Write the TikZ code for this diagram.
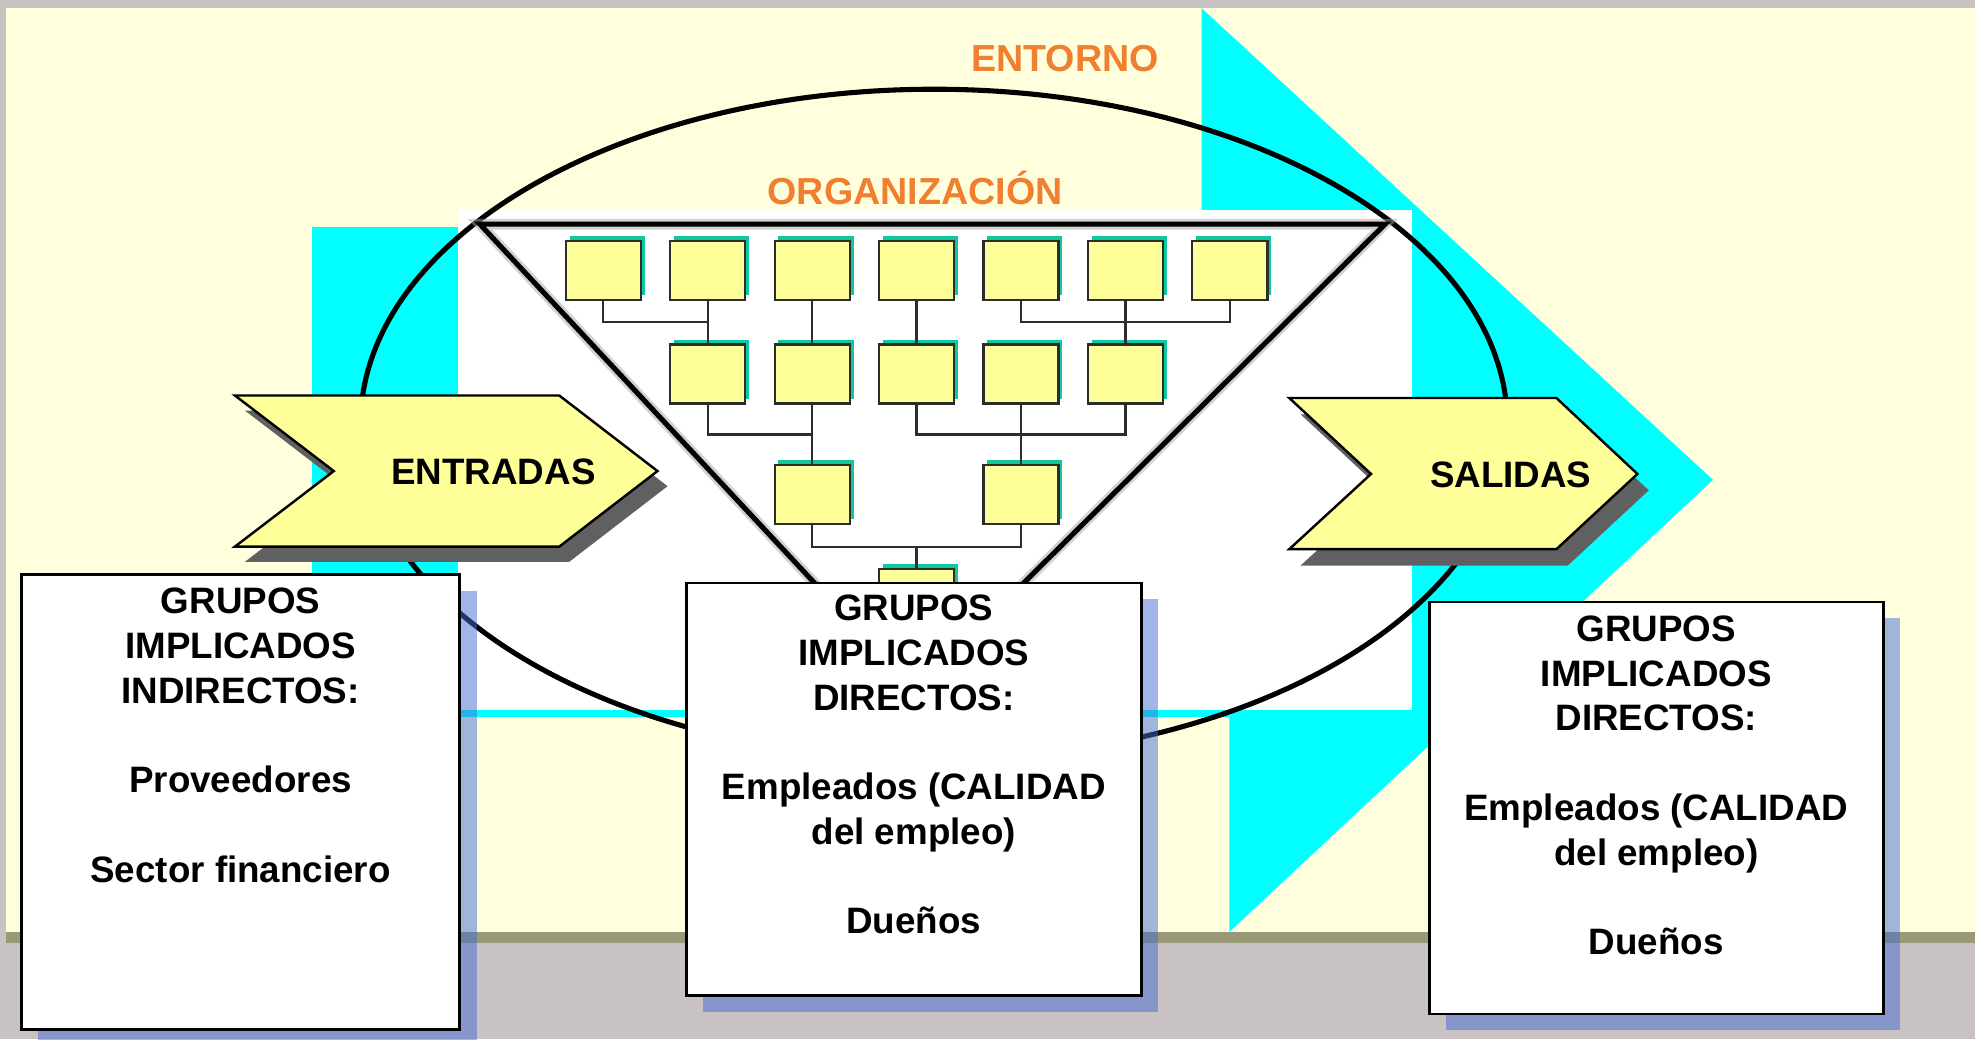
\documentclass[tikz,border=0pt]{standalone}
\usepackage{fontspec}
\setmainfont{Liberation Sans}
\usetikzlibrary{shadows}
\definecolor{bggray}{RGB}{201,194,194}
\definecolor{panel}{RGB}{255,255,221}
\definecolor{olive}{RGB}{153,153,120}
\definecolor{cyanc}{RGB}{0,255,255}
\definecolor{orgfill}{RGB}{255,255,153}
\definecolor{orgsh}{RGB}{16,200,160}
\definecolor{chevfill}{RGB}{255,255,153}
\definecolor{chevsh}{RGB}{96,96,96}
\definecolor{orangec}{RGB}{240,128,48}
\definecolor{boxsh}{RGB}{69,108,212}
\definecolor{lineg}{RGB}{45,45,45}
\begin{document}
\begin{tikzpicture}[x=0.01cm,y=-0.01cm,
  orgbox/.style={draw=lineg, line width=0.5pt, fill=orgfill, minimum width=0.596cm, minimum height=0.468cm, inner sep=0pt,
    drop shadow={shadow xshift=0.03cm, shadow yshift=0.035cm, fill=orgsh, opacity=1}},
  conn/.style={draw=lineg, line width=0.5pt},
  chev/.style={draw=black, line width=0.55pt, fill=chevfill, line join=miter},
  chevshadow/.style={fill=chevsh},
  txtbox/.style={draw=black, line width=0.65pt, fill=white, inner sep=0pt,
    drop shadow={shadow xshift=0.135cm, shadow yshift=-0.125cm, fill=boxsh, opacity=0.5}},
  boxtext/.style={align=center, inner sep=0pt, anchor=north, font=\bfseries\fontsize{8.3}{10.1}\selectfont},
  lbl/.style={text=orangec, font=\bfseries\fontsize{8.5}{10}\selectfont, inner sep=0pt, anchor=base},
  chevtext/.style={font=\bfseries\fontsize{8.3}{10}\selectfont, inner sep=0pt, anchor=base},
  thick line/.style={line width=1.15pt, draw=black}
]
\useasboundingbox (0,0) rectangle (1568,825);
% background
\fill[bggray] (0,0) rectangle (1568,825);
\fill[panel] (5,6) rectangle (1568,740);
\fill[olive] (5,740) rectangle (1568,749);
% cyan arrow
\fill[cyanc] (248,180) rectangle (976,569.5);
\fill[cyanc] (954,6.5) -- (1360,381) -- (976,740) -- (976,560) -- (954,560) -- cycle;
% white area
\fill[white] (363.5,166.7) rectangle (1121,563.7);
% labels
\node[lbl] (entorno) at (845.5,57) {ENTORNO};
\node[lbl] (organizacion) at (726.5,162) {ORGANIZACIÓN};
% environment ellipse
\draw[thick line] (741.5,337) ellipse [x radius=4.55cm, y radius=2.66cm];
% organisation triangle
\draw[line width=2.4pt, draw=black!35, opacity=0.5, line join=miter] (381,178) -- (1099.6,178) -- (726.5,548.5) -- cycle;
\draw[thick line, line join=miter] (381,178) -- (1099.6,178) -- (726.5,548.5) -- cycle;
% org chart boxes
\node[orgbox] (r1a) at (479,214.5) {};
\node[orgbox] (r1b) at (561.9,214.5) {};
\node[orgbox] (r1c) at (644.8,214.5) {};
\node[orgbox] (r1d) at (727.7,214.5) {};
\node[orgbox] (r1e) at (810.6,214.5) {};
\node[orgbox] (r1f) at (893.5,214.5) {};
\node[orgbox] (r1g) at (976.4,214.5) {};
\node[orgbox] (r2a) at (561.9,297) {};
\node[orgbox] (r2b) at (644.8,297) {};
\node[orgbox] (r2c) at (727.7,297) {};
\node[orgbox] (r2d) at (810.6,297) {};
\node[orgbox] (r2e) at (893.5,297) {};
\node[orgbox] (r3a) at (644.8,392.5) {};
\node[orgbox] (r3b) at (810.6,392.5) {};
\node[orgbox] (r4) at (727.7,475) {};
% org chart connectors
\draw[conn] (r1a.south) -- ++(0,17.1) -| (r2a.north);
\draw[conn] (r1b.south) -- (r2a.north);
\draw[conn] (r1c.south) -- (r2b.north);
\draw[conn] (r1d.south) -- (r2c.north);
\draw[conn] (r1e.south) -- ++(0,17.1) -| (r1g.south);
\draw[conn] (r1f.south) -- (r2e.north);
\draw[conn] (r2a.south) -- ++(0,23.6) -| (r3a.north);
\draw[conn] (r2b.south) -- (r3a.north);
\draw[conn] (r2c.south) -- ++(0,23.6) -| (r2e.south);
\draw[conn] (r2d.south) -- (r3b.north);
\draw[conn] (r3a.south) -- ++(0,17.6) -| (r3b.south);
\draw[conn] (r4.north) -- ++(0,-17.6);
% ENTRADAS chevron
\fill[chevshadow, shift={(8,12)}] (186.5,314) -- (444,314) -- (522,374) -- (444,434) -- (186.5,434) -- (265,374) -- cycle;
\draw[chev] (186.5,314) -- (444,314) -- (522,374) -- (444,434) -- (186.5,434) -- (265,374) -- cycle;
\node[chevtext] (entradas) at (391.8,385) {ENTRADAS};
% SALIDAS chevron
\fill[chevshadow, shift={(9,13)}] (1023.6,316) -- (1235.7,316) -- (1300,376.3) -- (1235.7,436) -- (1023.6,436) -- (1088.5,376.3) -- cycle;
\draw[chev] (1023.6,316) -- (1235.7,316) -- (1300,376.3) -- (1235.7,436) -- (1023.6,436) -- (1088.5,376.3) -- cycle;
\node[chevtext] (salidas) at (1199.4,386.9) {SALIDAS};
% stakeholder boxes
\node[txtbox, minimum width=3.48cm, minimum height=3.605cm] (boxL) at (191,636.75) {};
\node[boxtext] (tL) at (191,466.2) {GRUPOS\\IMPLICADOS\\INDIRECTOS:\\[10.1pt]Proveedores\\[10.1pt]Sector financiero};
\node[txtbox, minimum width=3.61cm, minimum height=3.275cm] (boxM) at (725.5,626.75) {};
\node[boxtext] (tM) at (725.5,471.7) {GRUPOS\\IMPLICADOS\\DIRECTOS:\\[10.1pt]Empleados (CALIDAD\\del empleo)\\[10.1pt]Dueños};
\node[txtbox, minimum width=3.6cm, minimum height=3.27cm] (boxR) at (1315,641.5) {};
\node[boxtext] (tR) at (1315,488.1) {GRUPOS\\IMPLICADOS\\DIRECTOS:\\[10.1pt]Empleados (CALIDAD\\del empleo)\\[10.1pt]Dueños};
\end{tikzpicture}
\end{document}
